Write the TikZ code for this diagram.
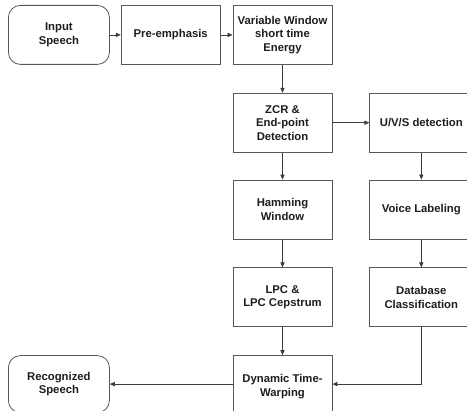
\documentclass[tikz,border=0pt]{standalone}
\usepackage{fontspec}
\setmainfont{Liberation Sans}
\usepackage{tikz}
\usetikzlibrary{arrows.meta,positioning}
\definecolor{SRedge}{RGB}{88,88,88}
\definecolor{SRline}{RGB}{60,60,60}
\definecolor{SRtext}{RGB}{30,30,30}
\tikzset{
  proc/.style={draw=SRedge,line width=0.8pt,fill=white,text=SRtext,align=center,
               inner sep=2pt,minimum width=99pt,minimum height=59pt,
               font=\fontsize{11.3}{13.5}\selectfont\bfseries},
  side/.style={proc,minimum width=103pt},
  term/.style={proc,rounded corners=12pt,minimum width=101pt},
  fl/.style={-{Triangle[length=5pt,width=4.2pt]},line width=0.7pt,draw=SRline}
}
\begin{document}
\begin{tikzpicture}[node distance=28pt]
  \useasboundingbox (0,0) rectangle (467pt,-411pt);
  \node[term,anchor=north west] (inp) at (8pt,-5pt) {Input\\Speech};
  \node[proc,right=11pt of inp] (pre) {Pre-emphasis};
  \node[proc,right=12pt of pre] (var) {Variable Window\\short time\\Energy};
  \node[proc,below=of var] (zcr) {ZCR \&\\End-point\\Detection};
  \node[proc,below=27pt of zcr] (ham) {Hamming\\Window};
  \node[proc,below=of ham] (lpc) {LPC \&\\LPC Cepstrum};
  \node[proc,below=of lpc,minimum height=62pt] (dtw) {Dynamic Time-\\Warping};
  \node[side,right=37pt of zcr] (uvs) {U/V/S detection};
  \node[side,below=27pt of uvs] (voice) {Voice Labeling};
  \node[side,below=of voice] (db) {Database\\Classification};
  \node[term,anchor=north,minimum height=57pt] (rec) at (inp.south |- dtw.north) {Recognized\\Speech};
  \draw[fl] (inp) -- (pre);
  \draw[fl] (pre) -- (var);
  \draw[fl] (var) -- (zcr);
  \draw[fl] (zcr) -- (uvs);
  \draw[fl] (zcr) -- (ham);
  \draw[fl] (ham) -- (lpc);
  \draw[fl] (lpc) -- (dtw);
  \draw[fl] (uvs) -- (voice);
  \draw[fl] (voice) -- (db);
  \draw[fl] (dtw.west |- rec.east) -- (rec.east);
  \draw[fl] (db.south) |- (dtw.east |- rec.east);
\end{tikzpicture}
\end{document}
